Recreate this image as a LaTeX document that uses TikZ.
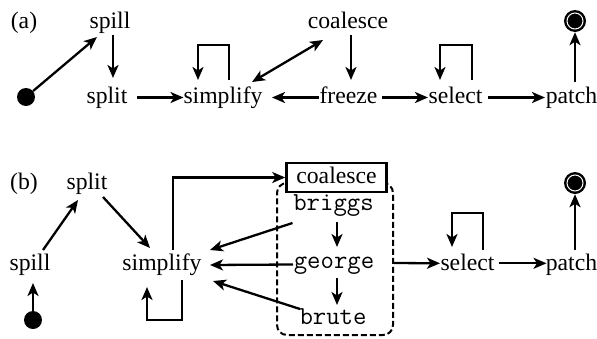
\documentclass[tikz,border=0pt]{standalone}
\usepackage{fontspec}
\setmainfont{Liberation Serif}
\usetikzlibrary{arrows.meta,calc}
\begin{document}
\begin{tikzpicture}[x=1pt,y=-1pt,
  lbl/.style={font=\fontsize{23.7}{28}\selectfont, inner sep=0pt, anchor=base},
  code/.style={font=\fontsize{26}{30}\selectfont\ttfamily, inner sep=0pt, anchor=base},
  tip/.tip={Stealth[length=13pt,width=11pt,inset=3.5pt]},
  arr/.style={line width=2.3pt, -tip},
  dbl/.style={line width=2.3pt, tip-tip},
  startdot/.style={circle, fill=black, minimum size=18pt, inner sep=0pt},
  enddot/.style={circle, fill=black, minimum size=22pt, inner sep=0pt,
    path picture={\draw[white,line width=1pt] (path picture bounding box.center) circle[radius=8pt];}},
  grpbox/.style={draw, line width=2pt, dash pattern=on 6pt off 3pt, rounded corners=10pt,
    minimum width=116pt, minimum height=152pt, inner sep=0pt},
  boxed/.style={lbl, draw, line width=2.3pt, fill=white, inner xsep=10pt, inner ysep=3.5pt,
    text height=17pt, text depth=5pt}
]
\useasboundingbox (0,0) rectangle (597,338);

% ---------- (a) ----------
\node[lbl] (lblA) at (24,28.5) {(a)};
\node[lbl] (spillA) at (110,28.5) {spill};
\node[lbl] (splitA) at (107,103) {split};
\node[lbl] (simpA) at (223,103) {simplify};
\node[lbl] (coalA) at (348,28.5) {coalesce};
\node[lbl] (freezeA) at (348.5,103) {freeze};
\node[lbl] (selA) at (455.5,103) {select};
\node[lbl] (patchA) at (571.5,103) {patch};
\node[startdot] (startA) at (26,97) {};
\node[enddot] (endA) at (575,21) {};

\draw[arr] (startA) -- ([xshift=-13pt,yshift=-8.5pt]spillA.base);
\draw[arr] ([xshift=3pt,yshift=-6.5pt]spillA.base) -- ([xshift=6pt,yshift=25pt]splitA.base);
\draw[arr] ([xshift=30pt,yshift=5.5pt]splitA.base) -- ([xshift=-39.5pt,yshift=5.5pt]simpA.base);
\draw[dbl] ([xshift=29pt,yshift=21pt]simpA.base) -- ([xshift=-25pt,yshift=-11.5pt]coalA.base);
\draw[arr] ([xshift=6pt,yshift=23pt]simpA.base) -- ++(0,-35) -| ([xshift=-25pt,yshift=23pt]simpA.base);
\draw[arr] ([xshift=-29.5pt,yshift=5.5pt]freezeA.base) -- ([xshift=49pt,yshift=5.5pt]simpA.base);
\draw[arr] ([xshift=3pt,yshift=-6.5pt]coalA.base) -- ([xshift=2.5pt,yshift=23pt]freezeA.base);
\draw[arr] ([xshift=33.5pt,yshift=5.5pt]freezeA.base) -- ([xshift=-27.5pt,yshift=5.5pt]selA.base);
\draw[arr] ([xshift=16.5pt,yshift=23pt]selA.base) -- ++(0,-35) -| ([xshift=-15.5pt,yshift=23pt]selA.base);
\draw[arr] ([xshift=32.5pt,yshift=5.5pt]selA.base) -- ([xshift=-26.5pt,yshift=5.5pt]patchA.base);
\draw[arr] ([xshift=3.5pt,yshift=21pt]patchA.base) -- (endA);

% ---------- (b) ----------
\node[lbl] (lblB) at (24,189) {(b)};
\node[lbl] (splitB) at (87,189) {split};
\node[lbl] (spillB) at (30,270.5) {spill};
\node[lbl] (simpB) at (162,270.5) {simplify};
\node[grpbox] (grp) at (335,259) {};
\node[boxed] (coalB) at (336.5,183.5) {coalesce};
\node[code] (briggsB) at (333.5,210) {briggs};
\node[code] (georgeB) at (334,268) {george};
\node[code] (bruteB) at (333,324) {brute};
\node[lbl] (selB) at (467.5,270) {select};
\node[lbl] (patchB) at (571.5,270) {patch};
\node[startdot] (startB) at (33,320) {};
\node[enddot] (endB) at (575,183) {};

\draw[arr] (startB) -- ([xshift=3pt,yshift=-12.5pt]spillB.base);
\draw[arr] ([xshift=13pt,yshift=20.5pt]spillB.base) -- ([xshift=-9pt,yshift=-11pt]splitB.base);
\draw[arr] ([xshift=16pt,yshift=-8pt]splitB.base) -- ([xshift=-12pt,yshift=22.5pt]simpB.base);
\draw[arr] ([xshift=20pt,yshift=-9.5pt]simpB.base) -- ++(0,40) -| ([xshift=-15pt,yshift=-16.5pt]simpB.base);
\draw[arr] ([xshift=11pt,yshift=20.5pt]simpB.base) |- (coalB.west);
\draw[arr] ([xshift=-41pt,yshift=-13pt]briggsB.base) -- ([xshift=48pt,yshift=20.5pt]simpB.base);
\draw[arr] ([xshift=-41pt,yshift=3.5pt]georgeB.base) -- ([xshift=48pt,yshift=5.5pt]simpB.base);
\draw[arr] ([xshift=-33pt,yshift=15pt]bruteB.base) -- ([xshift=51pt,yshift=-10.5pt]simpB.base);
\draw[arr] ([xshift=3.5pt,yshift=-12pt]briggsB.base) -- ([xshift=3pt,yshift=21pt]georgeB.base);
\draw[arr] ([xshift=3pt,yshift=-10pt]georgeB.base) -- ([xshift=4pt,yshift=19pt]bruteB.base);
\draw[arr] ([yshift=-4pt]grp.east) -- ([xshift=-27.5pt,yshift=6.7pt]selB.base);
\draw[arr] ([xshift=15.5pt,yshift=20pt]selB.base) -- ++(0,-37) -| ([xshift=-15.5pt,yshift=23pt]selB.base);
\draw[arr] ([xshift=31.5pt,yshift=6.7pt]selB.base) -- ([xshift=-25pt,yshift=6.7pt]patchB.base);
\draw[arr] ([xshift=3.5pt,yshift=20pt]patchB.base) -- (endB);
\end{tikzpicture}
\end{document}
